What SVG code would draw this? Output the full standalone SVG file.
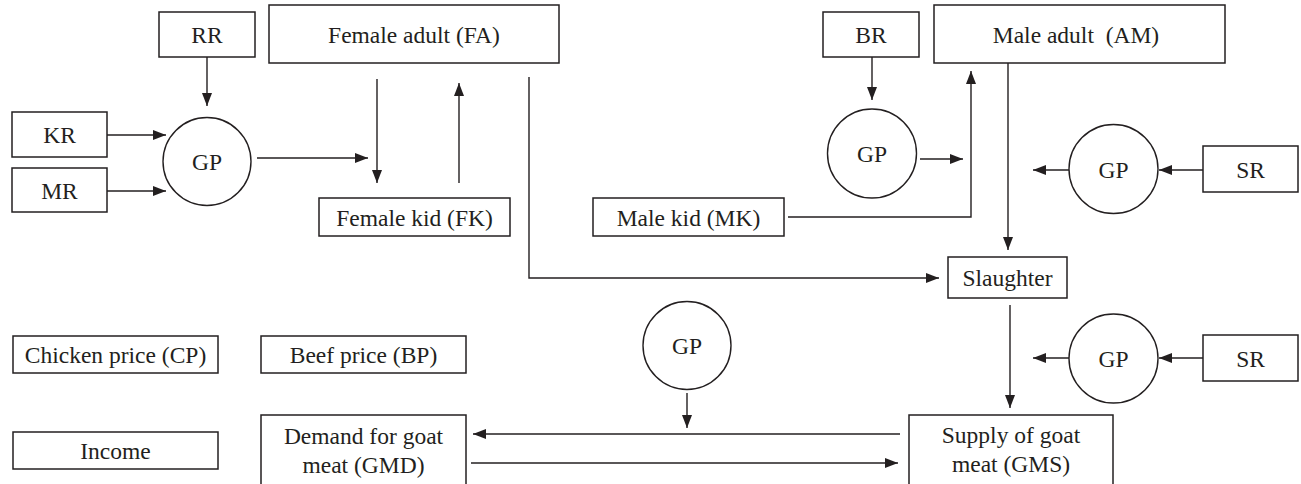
<svg xmlns="http://www.w3.org/2000/svg" width="1301" height="484" viewBox="0 0 1301 484">
<style>
  .box { fill: #ffffff; stroke: #231f20; stroke-width: 1.5; }
  .circ { fill: #ffffff; stroke: #231f20; stroke-width: 1.4; }
  .lbl { font-family: "Liberation Serif", "Times New Roman", serif; font-size: 23.5px; fill: #231f20; text-anchor: middle; }
  .conn { fill: none; stroke: #231f20; stroke-width: 1.4; }
  .arr { marker-end: url(#ah); }
</style>
<defs>
  <marker id="ah" markerUnits="userSpaceOnUse" markerWidth="14" markerHeight="11" refX="13" refY="5" orient="auto">
    <path d="M0,0 L13,5 L0,10 Z" fill="#231f20"/>
  </marker>
</defs>
<rect width="1301" height="484" fill="#ffffff"/>

<g id="connectors">
  <line class="conn arr" x1="207" y1="57" x2="207" y2="106"/>
  <line class="conn arr" x1="107" y1="135" x2="166" y2="135"/>
  <line class="conn arr" x1="107" y1="191" x2="166" y2="191"/>
  <line class="conn arr" x1="257" y1="158" x2="368" y2="158"/>
  <line class="conn arr" x1="377" y1="79" x2="377" y2="183"/>
  <line class="conn arr" x1="459" y1="183" x2="459" y2="83"/>
  <polyline class="conn arr" points="529,77 529,278 939,278"/>
  <line class="conn arr" x1="872" y1="57" x2="872" y2="100"/>
  <line class="conn arr" x1="920" y1="159" x2="963" y2="159"/>
  <polyline class="conn arr" points="788,217 971,217 971,71"/>
  <line class="conn arr" x1="1008" y1="63" x2="1008" y2="250"/>
  <line class="conn arr" x1="1069" y1="170" x2="1033" y2="170"/>
  <line class="conn arr" x1="1203" y1="170" x2="1159" y2="170"/>
  <line class="conn arr" x1="1010" y1="305" x2="1010" y2="408"/>
  <line class="conn arr" x1="1069" y1="358" x2="1033" y2="358"/>
  <line class="conn arr" x1="1203" y1="358" x2="1159" y2="358"/>
  <line class="conn arr" x1="687" y1="393" x2="687" y2="428"/>
  <line class="conn arr" x1="900" y1="434" x2="473" y2="434"/>
  <line class="conn arr" x1="471" y1="463" x2="898" y2="463"/>
</g>

<g id="RR"><rect class="box" x="159" y="12" width="96" height="45"/><text class="lbl" x="207" y="43">RR</text></g>
<g id="FA"><rect class="box" x="269" y="5" width="290" height="58"/><text class="lbl" x="414" y="43">Female adult (FA)</text></g>
<g id="KR"><rect class="box" x="12" y="112" width="95" height="45"/><text class="lbl" x="59.5" y="143">KR</text></g>
<g id="MR"><rect class="box" x="12" y="168" width="95" height="44"/><text class="lbl" x="59.5" y="198.5">MR</text></g>
<g id="GP1"><circle class="circ" cx="207" cy="161.5" r="44"/><text class="lbl" x="207" y="170">GP</text></g>
<g id="FK"><rect class="box" x="319" y="198" width="191" height="38"/><text class="lbl" x="414.5" y="225.5">Female kid (FK)</text></g>

<g id="BR"><rect class="box" x="823" y="12" width="96" height="45"/><text class="lbl" x="871" y="43">BR</text></g>
<g id="AM"><rect class="box" x="934" y="5" width="291" height="58"/><text class="lbl" x="1076" y="43" xml:space="preserve">Male adult  (AM)</text></g>
<g id="GP2"><circle class="circ" cx="872" cy="153.5" r="44.5"/><text class="lbl" x="872" y="162">GP</text></g>
<g id="MK"><rect class="box" x="593" y="198" width="191" height="38"/><text class="lbl" x="688.5" y="225.5">Male kid (MK)</text></g>
<g id="GP3"><circle class="circ" cx="1113.5" cy="169" r="44.5"/><text class="lbl" x="1113.5" y="177.5">GP</text></g>
<g id="SR1"><rect class="box" x="1203" y="146" width="95" height="46"/><text class="lbl" x="1250.5" y="177.5">SR</text></g>

<g id="Slaughter"><rect class="box" x="948" y="257" width="119" height="41"/><text class="lbl" x="1007.5" y="286">Slaughter</text></g>

<g id="CP"><rect class="box" x="13" y="336" width="205" height="37"/><text class="lbl" x="115.5" y="363">Chicken price (CP)</text></g>
<g id="BP"><rect class="box" x="261" y="336" width="205" height="37"/><text class="lbl" x="363.5" y="363">Beef price (BP)</text></g>
<g id="GP4"><circle class="circ" cx="687" cy="345.5" r="44"/><text class="lbl" x="687" y="354">GP</text></g>
<g id="GP5"><circle class="circ" cx="1113.5" cy="358.5" r="44.5"/><text class="lbl" x="1113.5" y="367">GP</text></g>
<g id="SR2"><rect class="box" x="1203" y="335" width="95" height="46"/><text class="lbl" x="1250.5" y="366.5">SR</text></g>

<g id="Income"><rect class="box" x="13" y="432" width="205" height="37"/><text class="lbl" x="115.5" y="459">Income</text></g>
<g id="GMD"><rect class="box" x="261" y="415" width="205" height="90"/><text class="lbl" x="363.5" y="444">Demand for goat</text><text class="lbl" x="363.5" y="473">meat (GMD)</text></g>
<g id="GMS"><rect class="box" x="909" y="415" width="204" height="90"/><text class="lbl" x="1011" y="443">Supply of goat</text><text class="lbl" x="1011" y="472">meat (GMS)</text></g>
</svg>
